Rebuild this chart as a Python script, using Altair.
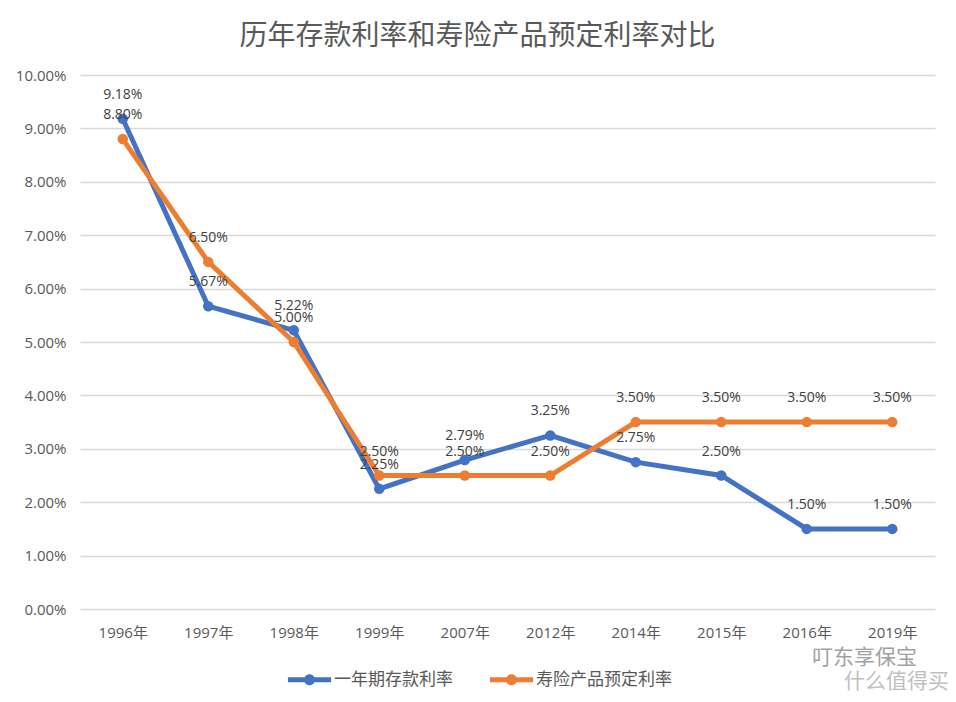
import altair as alt
import pandas as pd

years = ["1996年", "1997年", "1998年", "1999年", "2007年", "2012年", "2014年", "2015年", "2016年", "2019年"]
deposit = [9.18, 5.67, 5.22, 2.25, 2.79, 3.25, 2.75, 2.50, 1.50, 1.50]
insurance = [8.80, 6.50, 5.00, 2.50, 2.50, 2.50, 3.50, 3.50, 3.50, 3.50]
series_names = ["一年期存款利率", "寿险产品预定利率"]
colors = ["#4472C4", "#ED7D31"]

rows = []
for name, vals in zip(series_names, [deposit, insurance]):
    for y, v in zip(years, vals):
        rows.append({"year": y, "series": name, "value": v / 100})
df = pd.DataFrame(rows)

FONT = "Open Sans, Noto Sans CJK SC"
CJK = "Noto Sans CJK SC"

sym = "M-1.4,-0.16L1.4,-0.16L1.4,0.16L-1.4,0.16Z M-0.36,0A0.36,0.36 0 1,1 0.36,0A0.36,0.36 0 1,1 -0.36,0Z"

x = alt.X("year:N", sort=years, title=None,
          axis=alt.Axis(labelAngle=0, labelFont=FONT, labelFontSize=15, labelColor="#595959",
                        labelPadding=16, ticks=False, domain=False, grid=False))
y = alt.Y("value:Q", title=None, scale=alt.Scale(domain=[0, 0.10], nice=False),
          axis=alt.Axis(format=".2%", values=[i / 100 for i in range(11)], labelFont=FONT,
                        labelFontSize=15, labelColor="#595959", labelPadding=14,
                        ticks=False, domain=False, gridColor="#D9D9D9", gridWidth=1.5))
color = alt.Color("series:N", sort=series_names,
                  scale=alt.Scale(domain=series_names, range=colors),
                  legend=alt.Legend(title=None, orient="none", direction="horizontal",
                                    legendX=214, legendY=589, symbolType=sym, symbolSize=950,
                                    symbolStrokeWidth=0, labelFont=CJK, labelFontSize=17,
                                    labelColor="#595959", columnPadding=36, labelOffset=9))

base = alt.Chart(df)
lines = base.mark_line(strokeWidth=5).encode(x=x, y=y, color=color)
points = base.mark_point(filled=True, size=110, opacity=1).encode(x=x, y=y, color=color)
labels = base.mark_text(dy=-24, font=FONT, fontSize=14, color="#404040").encode(
    x=x, y=y, text=alt.Text("value:Q", format=".2%"))

wm1 = alt.Chart(pd.DataFrame({"t": ["叮东享保宝"]})).mark_text(
    font=CJK, fontSize=21, color="#8a8a8a", align="left", opacity=0.8).encode(
    x=alt.value(732), y=alt.value(583), text="t:N")
wm2 = alt.Chart(pd.DataFrame({"t": ["什么值得买"]})).mark_text(
    font=CJK, fontSize=21, color="#b0b0b0", align="left", opacity=0.8).encode(
    x=alt.value(764), y=alt.value(607), text="t:N")

chart = alt.layer(lines, points, labels, wm1, wm2).properties(
    width=855, height=534,
    padding={"left": 72, "top": 67, "right": 13, "bottom": 85},
    autosize=alt.AutoSizeParams(type="none"),
    title=alt.TitleParams("历年存款利率和寿险产品预定利率对比", font=CJK, fontSize=28,
                          fontWeight="normal", color="#595959", anchor="middle", dx=-30,
                          offset=17),
).configure(background="white").configure_view(strokeWidth=0, stroke="transparent")

chart.save("out.html", embed_options={"renderer": "svg", "actions": False})
